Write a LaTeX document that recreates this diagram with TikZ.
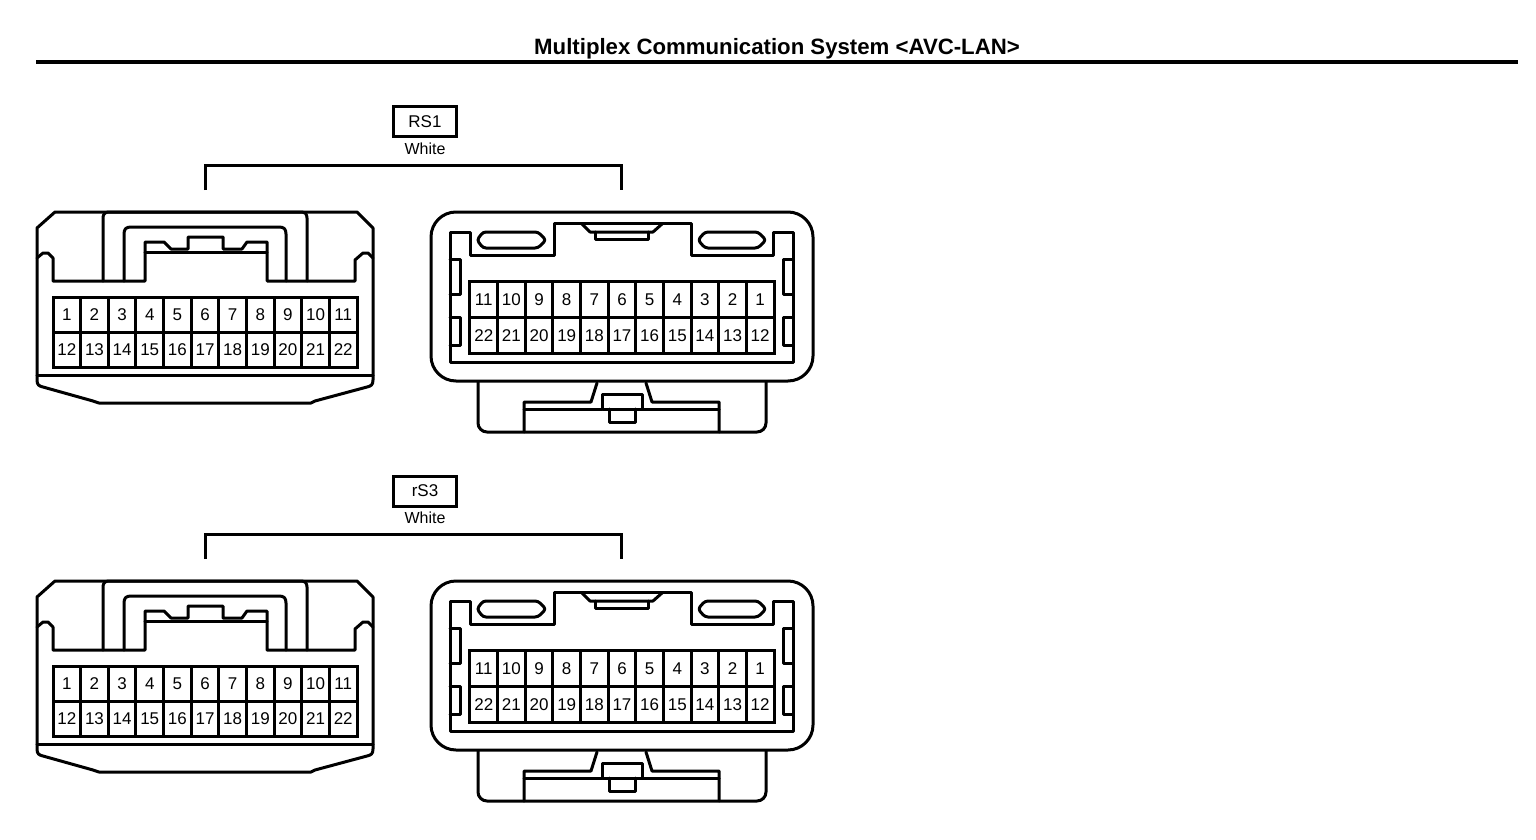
\documentclass[tikz,border=0pt]{standalone}
\usepackage{fontspec}
\setmainfont{Liberation Sans}
\usetikzlibrary{positioning}

\tikzset{
    part/.style = {line width=3pt, line join=round, line cap=round},
    pin/.style = {draw, line width=3pt, minimum width=27.64pt, minimum height=35pt,
        inner sep=0pt, font=\fontsize{17}{17}\selectfont},
    code/.style = {draw, line width=3pt, minimum width=63pt, minimum height=30pt,
        inner sep=0pt, font=\fontsize{17}{17}\selectfont},
    colour/.style = {inner sep=0pt, font=\fontsize{16}{16}\selectfont}
}

\begin{document}
\begin{tikzpicture}[x=1pt, y=-1pt]
    \useasboundingbox (0,0) rectangle (1536,840);
    \node [inner sep=0pt, font=\bfseries\fontsize{22.2}{22.2}\selectfont] at (777,48.5) (title)
        {Multiplex Communication System <AVC-LAN>};
    \coordinate (ruleL) at (36,62);
    \coordinate (ruleR) at (1518,62);
    \draw[line width=4pt] (ruleL) -- (ruleR);

    \foreach \sh/\lab/\id in {0/RS1/a, 369/rS3/b} {
    \begin{scope}[shift={(0,\sh)}]
        \node [code] at (425,122) (box\id) {\lab};
        \node [colour, below=4pt of box\id] (white\id) {White};
        \coordinate (brkL\id) at (205,190);
        \coordinate (brkR\id) at (621,190);
        \coordinate (brkT\id) at (413,165);
        \draw[part, line cap=butt, line join=miter] (brkL\id) |- (brkT\id) -| (brkR\id);

        % left connector
        \draw[part] (55,212) -- (357,212) -- (373,228) -- (373,380)
            .. controls (373,385) and (371,386) .. (367,387) -- (315,401) -- (311,403)
            -- (99,403) -- (93,401) -- (43,387)
            .. controls (39,386) and (37,385) .. (37,380) -- (37,228) -- cycle;
        \draw[part] (37,375) -- (373,375);
        \draw[part] (37,258) -- (43,253) -- (48,253) -- (53,258) -- (53,281) -- (145,281)
            -- (145,242) -- (164,242) -- (171,249) -- (188,249) -- (188,237) -- (223,237)
            -- (223,249) -- (242,249) -- (247,242) -- (267,242) -- (267,281) -- (355,281)
            -- (355,260) -- (363,253) -- (368,253) -- (373,258);
        \draw[part] (145,252) -- (267,252);
        \draw[part] (103,281) -- (103,218) .. controls (103,214) and (105,212) .. (109,212)
            -- (301,212) .. controls (305,212) and (307,214) .. (307,218) -- (307,281);
        \draw[part] (124,281) -- (124,234) .. controls (124,229) and (126,227) .. (131,227)
            -- (279,227) .. controls (284,227) and (286,229) .. (286,234) -- (286,281);
        \foreach \n in {1,...,11} {
            \pgfmathtruncatemacro{\m}{\n+11}
            \node [pin] at ({53+27.64*(\n-0.5)},314.5) (l\id\n) {\n};
            \node [pin] at ({53+27.64*(\n-0.5)},349.5) (l\id\m) {\m};
        }

        % right connector
        \draw[part, rounded corners=25pt] (431,212) rectangle (813,381);
        \draw[part, rounded corners=9pt] (478,382) -- (478,432) -- (766,432) -- (766,382);
        \draw[part] (450,232) -- (450,362) -- (793,362) -- (793,232) -- (773,232) -- (773,255)
            -- (691,255) -- (691,223) -- (554,223) -- (554,255) -- (470,255) -- (470,232) -- cycle;
        \draw[part] (582,224) -- (590,232) -- (653,232) -- (662,224);
        \draw[part] (595,232) -- (595,239) -- (648,239) -- (648,232);
        \draw[part, rounded corners=3pt] (483,232) -- (538,232) -- (546,240) -- (538,248)
            -- (483,248) -- (477,240) -- cycle;
        \draw[part, rounded corners=3pt] (705,232) -- (758,232) -- (766,240) -- (758,248)
            -- (705,248) -- (698,240) -- cycle;
        \draw[part] (450,259) -- (460,259) -- (460,294) -- (450,294);
        \draw[part] (450,317) -- (460,317) -- (460,345) -- (450,345);
        \draw[part] (793,259) -- (783,259) -- (783,294) -- (793,294);
        \draw[part] (793,317) -- (783,317) -- (783,345) -- (793,345);
        \draw[part] (597,383) -- (591,402) -- (524,402) -- (524,432);
        \draw[part] (646,383) -- (652,402) -- (719,402) -- (719,432);
        \draw[part] (524,409) -- (602,409);
        \draw[part] (642,409) -- (719,409);
        \draw[part] (602,409) -- (602,394) -- (642,394) -- (642,409) -- cycle;
        \draw[part] (609,409) -- (609,422) -- (635,422) -- (635,409);
        \foreach \n in {1,...,11} {
            \pgfmathtruncatemacro{\m}{\n+11}
            \node [pin, minimum height=35.5pt] at ({774-27.64*(\n-0.5)},299.5) (r\id\n) {\n};
            \node [pin, minimum height=35.5pt] at ({774-27.64*(\n-0.5)},335.5) (r\id\m) {\m};
        }
    \end{scope}
    }
\end{tikzpicture}
\end{document}
